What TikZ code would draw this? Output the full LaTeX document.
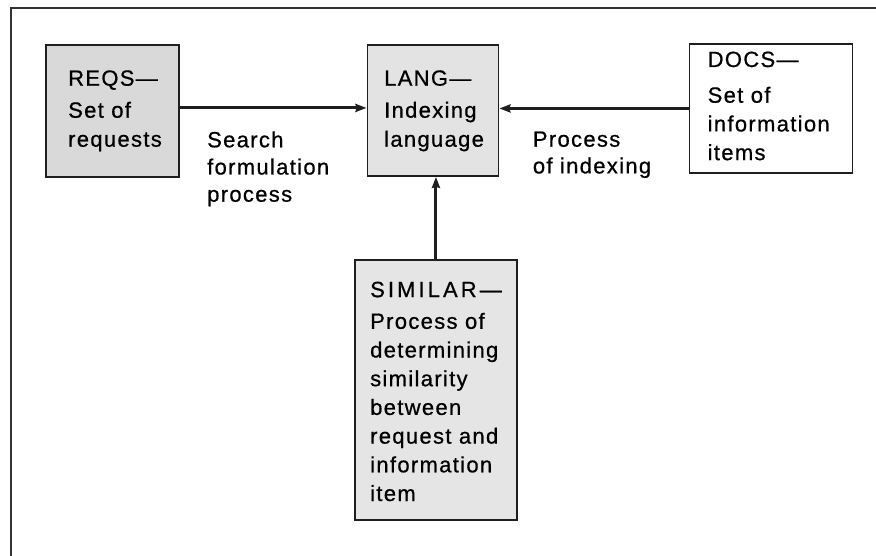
\documentclass[tikz,border=0pt]{standalone}
\usepackage{fontspec}
\setmainfont[LetterSpace=6,FakeBold=0.7]{Liberation Sans}
\usetikzlibrary{arrows.meta}
\begin{document}
\begin{tikzpicture}[x=1pt,y=-1pt,
 box/.style={draw=black!88, line width=1.9pt, inner sep=0pt, anchor=north west},
 lbl/.style={anchor=base west, align=left, inner sep=0pt, text=black},
 conn/.style={line width=3pt, draw=black!88, -{Stealth[length=11pt,width=8pt,inset=1pt]}}
]
\useasboundingbox (0,0) rectangle (876,556);
\fill[white] (0,0) rectangle (876,556);
\draw[line width=1.8pt, black!80] (876,8) -- (11,8) -- (11,556);
% boxes
\node[box, fill=black!15, minimum width=133pt, minimum height=132pt] (reqs) at (45,44) {};
\node[box, fill=black!11, minimum width=131pt, minimum height=131pt] (lang) at (366.5,44) {};
\node[box, fill=white, minimum width=163pt, minimum height=129pt] (docs) at (688.5,43) {};
\node[box, fill=black!10, minimum width=162pt, minimum height=260pt] (sim) at (354,259) {};
% box texts (anchored at the baseline of the last line)
\node[lbl, font=\fontsize{22}{29}\selectfont] (treqs) at (68,146.7) {REQS---\\[3pt] Set of\\ requests};
\node[lbl, font=\fontsize{22}{29}\selectfont] (tlang) at (384,146.7) {LANG---\\[3pt] Indexing\\ language};
\node[lbl, font=\fontsize{22}{28.7}\selectfont] (tdocs) at (707.5,160.1) {DOCS---\\[7pt] Set of\\ information\\ items};
\node[lbl, font=\fontsize{22}{28.7}\selectfont] (tsim) at (370,501) {{\addfontfeatures{LetterSpace=14}SIMILAR---}\\[3pt] Process of\\ determining\\ similarity\\ between\\ request and\\ information\\ item};
% connector labels
\node[lbl, font=\fontsize{22}{27.2}\selectfont] (lsearch) at (207,201.7) {Search\\ formulation\\ process};
\node[lbl, font=\fontsize{22}{26.7}\selectfont] (lindex) at (532.7,173.4) {Process\\ of indexing};
% connectors
\draw[conn] ([yshift=3pt]reqs.east) -- ([yshift=3pt]reqs.east -| lang.west);
\draw[conn] (docs.west) -- (docs.west -| lang.east);
\draw[conn] (sim.north) -- (sim.north |- lang.south);
\end{tikzpicture}
\end{document}
